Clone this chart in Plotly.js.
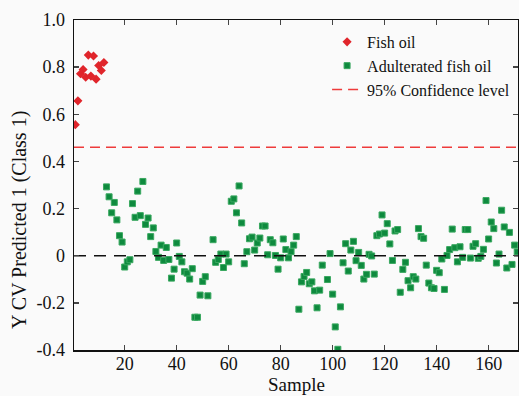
<!DOCTYPE html>
<html>
<head>
<meta charset="utf-8">
<script src="https://cdn.plot.ly/plotly-3.0.1.min.js"></script>
<style>html,body{margin:0;padding:0;background:#fafafa;}#chart{width:519px;height:396px;}</style>
</head>
<body>
<div id="chart"></div>
<script>
// Fish oil (Class 1) samples
var fishX = [1,2,3,4,5,6,7,8,9,10,11,12];
var fishY = [0.556,0.657,0.772,0.790,0.757,0.851,0.762,0.847,0.749,0.807,0.786,0.820];

// Adulterated fish oil samples
var adultX = [13,14,15,16,17,18,19,20,21,22,23,24,25,26,27,28,29,30,31,32,33,34,35,36,37,38,39,40,
  41,42,43,44,45,46,47,48,49,50,51,52,54,55,56,57,58,59,60,61,62,63,64,65,66,67,68,69,70,71,72,73,74,75,76,77,78,79,80,81,82,83,
  84,85,86,87,88,89,90,91,92,93,94,95,96,98,99,100,101,102,103,104,105,106,107,108,109,110,111,112,113,114,115,116,117,118,119,120,
  121,122,123,124,125,126,127,128,129,130,131,132,133,134,135,136,137,138,139,140,141,142,143,144,145,146,147,148,149,150,
  151,152,153,154,155,156,157,158,159,160,161,162,163,164,165,166,167,168,169,170,171];
var adultY = [0.292,0.250,0.182,0.226,0.152,0.085,0.058,-0.048,-0.026,-0.017,0.221,0.163,0.274,0.170,0.315,0.133,0.160,0.081,0.118,0.018,-0.007,0.045,-0.020,0.035,-0.016,-0.095,-0.057,0.054,
  -0.003,-0.026,-0.068,-0.074,-0.099,-0.055,-0.261,-0.261,-0.167,-0.109,-0.089,-0.170,0.068,-0.028,-0.016,0.007,-0.050,0.007,-0.026,0.231,0.241,0.182,0.296,0.139,-0.034,0.017,0.072,0.079,0.024,0.054,0.075,0.126,0.126,0.004,0.068,0.055,0.001,-0.057,-0.009,0.071,0.026,-0.009,
  0.017,0.045,0.081,-0.227,-0.111,-0.088,-0.071,-0.119,-0.111,-0.149,-0.221,-0.146,-0.040,-0.101,0.009,-0.163,-0.302,-0.397,-0.217,-0.030,0.051,-0.065,0.024,0.061,-0.021,0.014,-0.041,-0.099,-0.079,0.006,-0.001,-0.078,0.085,0.092,0.173,0.096,
  0.136,0.050,-0.020,0.105,0.111,-0.155,-0.058,-0.028,-0.106,-0.136,-0.089,-0.099,0.115,0.081,0.074,-0.040,-0.116,-0.136,-0.139,-0.062,-0.072,-0.014,-0.143,0.001,0.026,0.113,0.034,-0.026,0.038,-0.007,
  0.111,0.111,-0.010,0.040,0.051,-0.011,-0.003,0.027,0.234,0.071,0.143,0.115,-0.031,0.007,0.193,0.122,-0.052,0.099,-0.037,0.045,0.016];

var confidenceLevel = 0.46;
var xRange = [0.5, 171.3];
var yTickVals = [-0.4,-0.2,0,0.2,0.4,0.6,0.8,1.0];
var yTickText = ['-0.4','-0.2','0','0.2','0.4','0.6','0.8','1.0'];
var xTickVals = [20,40,60,80,100,120,140,160];
var xTitle = 'Sample';
var yTitle = 'Y CV Predicted 1 (Class 1)';

var font = 'Liberation Serif, Times New Roman, serif';

var traces = [
  {x: fishX, y: fishY, type:'scatter', mode:'markers', name:'Fish oil',
   marker:{symbol:'diamond', size:7, color:'#e0252b', line:{width:0}}},
  {x: adultX, y: adultY, type:'scatter', mode:'markers', name:'Adulterated fish oil',
   marker:{symbol:'square', size:6, color:'#0e8a3e', line:{width:1, color:'#3aa860'}}},
  {x: xRange, y: [confidenceLevel, confidenceLevel], type:'scatter', mode:'lines', name:'95% Confidence level',
   line:{color:'#ee3b3b', width:1.5, dash:'10px,6px'}},
  {x: xRange, y: [0, 0], type:'scatter', mode:'lines', showlegend:false, hoverinfo:'skip',
   line:{color:'#111', width:1.5, dash:'12px,8px'}}
];

var layout = {
  width:519, height:396,
  paper_bgcolor:'#fafafa', plot_bgcolor:'#fafafa',
  margin:{l:74, r:1, t:20, b:46},
  font:{family:font, size:18, color:'#111'},
  showlegend:true,
  legend:{x:0.57, y:0.985, xanchor:'left', yanchor:'top', bgcolor:'rgba(0,0,0,0)',
          font:{family:font, size:16, color:'#111'}, tracegroupgap:0, itemwidth:30},
  xaxis:{range:xRange, tickvals:xTickVals, ticks:'inside', ticklen:5, tickwidth:1.5,
         showline:true, linecolor:'#111', linewidth:1.5, mirror:'ticks', showgrid:false, zeroline:false,
         ticklabelstandoff:-3,
         tickfont:{family:font, size:18, color:'#111'}},
  yaxis:{range:[-0.4,1.0], tickvals:yTickVals, ticktext:yTickText, ticks:'inside', ticklen:5, tickwidth:1.5,
         showline:true, linecolor:'#111', linewidth:1.5, mirror:'ticks', showgrid:false, zeroline:false,
         ticklabelstandoff:4,
         tickfont:{family:font, size:18, color:'#111'}},
  annotations:[
    {text:yTitle, textangle:-90, xref:'paper', yref:'paper', x:(19-74)/444, y:(350-220)/330,
     xanchor:'center', yanchor:'middle', showarrow:false, font:{family:font, size:20, color:'#111'}},
    {text:xTitle, xref:'paper', yref:'paper', x:(296-74)/444, y:(350-385)/330,
     xanchor:'center', yanchor:'middle', showarrow:false, font:{family:font, size:19, color:'#111'}}
  ]
};

Plotly.newPlot('chart', traces, layout, {displayModeBar:false, staticPlot:true});
</script>
</body>
</html>
